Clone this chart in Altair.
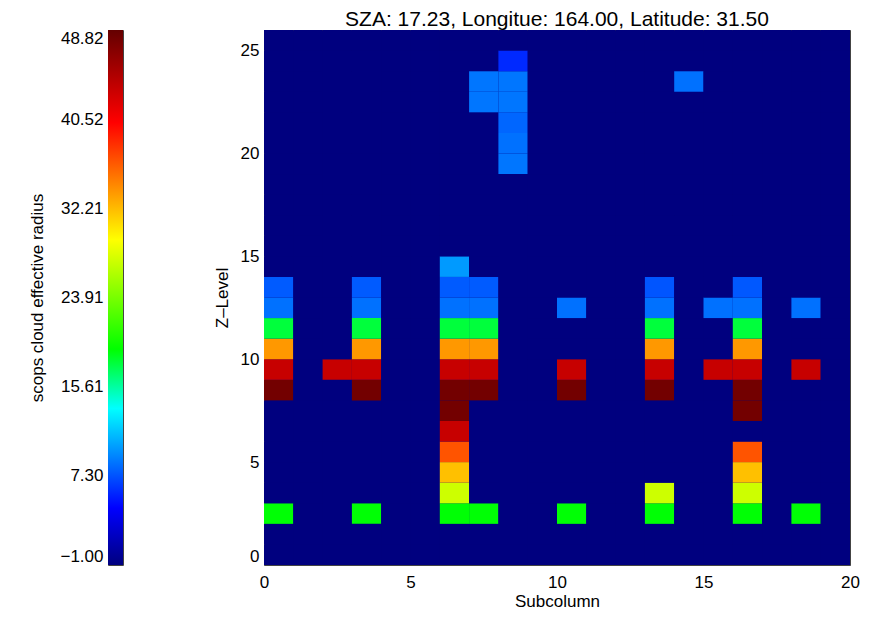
import altair as alt
import pandas as pd

# ---------------- data ----------------
n_subcolumns = 20
n_levels = 26
fill_value = -1.0

cell_subcolumn = [0, 0, 0, 0, 0, 0, 0,
                  2,
                  3, 3, 3, 3, 3, 3, 3,
                  6, 6, 6, 6, 6, 6, 6, 6, 6, 6, 6, 6, 6,
                  7, 7, 7, 7, 7, 7, 7, 7, 7,
                  8, 8, 8, 8, 8, 8,
                  10, 10, 10, 10,
                  13, 13, 13, 13, 13, 13, 13, 13,
                  14,
                  15, 15,
                  16, 16, 16, 16, 16, 16, 16, 16, 16, 16, 16,
                  18, 18, 18]
cell_level = [13, 12, 11, 10, 9, 8, 2,
              9,
              13, 12, 11, 10, 9, 8, 2,
              14, 13, 12, 11, 10, 9, 8, 7, 6, 5, 4, 3, 2,
              23, 22, 13, 12, 11, 10, 9, 8, 2,
              24, 23, 22, 21, 20, 19,
              12, 9, 8, 2,
              13, 12, 11, 10, 9, 8, 3, 2,
              23,
              12, 9,
              13, 12, 11, 10, 9, 8, 7, 5, 4, 3, 2,
              12, 9, 2]
cell_radius = [7.6, 8.4, 17.8, 33.7, 43.3, 48.0, 19.0,
               43.3,
               7.6, 8.4, 17.8, 33.7, 43.3, 48.0, 19.0,
               9.9, 7.6, 8.4, 17.8, 33.7, 43.3, 48.0, 48.0, 43.3, 36.6, 32.0, 27.3, 19.0,
               8.6, 8.6, 7.6, 8.4, 17.8, 33.7, 43.3, 48.0, 19.0,
               5.8, 8.6, 8.6, 8.0, 8.4, 8.6,
               8.4, 43.3, 48.0, 19.0,
               7.4, 8.4, 17.8, 33.7, 43.3, 48.0, 27.3, 19.0,
               8.4,
               8.4, 43.3,
               7.5, 8.4, 17.8, 33.7, 43.3, 48.0, 48.0, 36.6, 32.0, 27.3, 19.0,
               8.4, 43.3, 19.0]

colorbar_ticks = [-1.00, 7.30, 15.61, 23.91, 32.21, 40.52, 48.82]
palette_values = [-1.00, 4.3, 13.57, 19.1, 29.3, 40.2, 48.82]
palette_colors = ["#00007f", "#0000ff", "#00ffff", "#00ff00", "#ffff00", "#ff0000", "#640000"]
x_ticks = [0, 5, 10, 15, 20]
y_ticks = [0, 5, 10, 15, 20, 25]

title_text = "SZA: 17.23, Longitue: 164.00, Latitude: 31.50"
x_title = "Subcolumn"
y_title = "Z\u2013Level"
cb_title = "scops cloud effective radius"

# ---------------- tables ----------------
lookup = {(c, l): r for c, l, r in zip(cell_subcolumn, cell_level, cell_radius)}
rows = []
for c in range(n_subcolumns):
    for l in range(n_levels):
        rows.append({"x0": c, "x1": c + 1, "y0": l, "y1": l + 1,
                     "radius": lookup.get((c, l), fill_value)})
grid = pd.DataFrame(rows)

lo, hi = palette_values[0], palette_values[-1]
cb_df = pd.DataFrame({"lo": [lo], "hi": [hi]})

color_scale = alt.Scale(domain=palette_values, range=palette_colors, interpolate="rgb")

FONT = "Liberation Sans"
H = 535

heat = alt.Chart(grid).mark_rect(strokeWidth=0).encode(
    x=alt.X("x0:Q", scale=alt.Scale(domain=[0, n_subcolumns], nice=False, zero=False),
            axis=alt.Axis(values=x_ticks, title=x_title, labelPadding=9, titlePadding=3,
                          labelFlush=False)),
    x2="x1:Q",
    y=alt.Y("y0:Q", scale=alt.Scale(domain=[0, n_levels], nice=False, zero=False),
            axis=alt.Axis(values=y_ticks, title=y_title, labelPadding=5, titlePadding=9,
                          labelFlush=True)),
    y2="y1:Q",
    color=alt.Color("radius:Q", scale=color_scale, legend=None),
).properties(
    width=586, height=H,
    view=alt.ViewBackground(fill=palette_colors[0], stroke="#444444", strokeWidth=1),
    title=alt.TitleParams(title_text, fontSize=21, fontWeight="normal", offset=0,
                          font=FONT, color="black"),
)

gradient = alt.LinearGradient(
    gradient="linear",
    stops=[alt.GradientStop(offset=(v - lo) / (hi - lo), color=c)
           for v, c in zip(palette_values, palette_colors)],
    x1=0, x2=0, y1=1, y2=0,
)

colorbar = alt.Chart(cb_df).mark_rect(color=gradient).encode(
    y=alt.Y("lo:Q", scale=alt.Scale(domain=[lo, hi], nice=False, zero=False),
            axis=alt.Axis(values=colorbar_ticks, format=".2f", title=cb_title,
                          labelPadding=5, titlePadding=13, labelFlush=True)),
    y2="hi:Q",
    x=alt.value(0),
    x2=alt.value(15),
).properties(width=15, height=H)

chart = alt.hconcat(colorbar, heat, spacing=141, bounds="flush").properties(
    padding={"left": 20, "top": 0, "right": 5, "bottom": 5},
    background="white",
).configure(font=FONT).configure_view(
    stroke="#444444", strokeWidth=1,
).configure_axis(
    labelFontSize=17, titleFontSize=17, titleFontWeight="normal",
    labelColor="black", titleColor="black", labelFont=FONT, titleFont=FONT,
    ticks=False, domain=False, grid=False,
)

chart.save("out.html", embed_options={"renderer": "svg", "actions": False})
